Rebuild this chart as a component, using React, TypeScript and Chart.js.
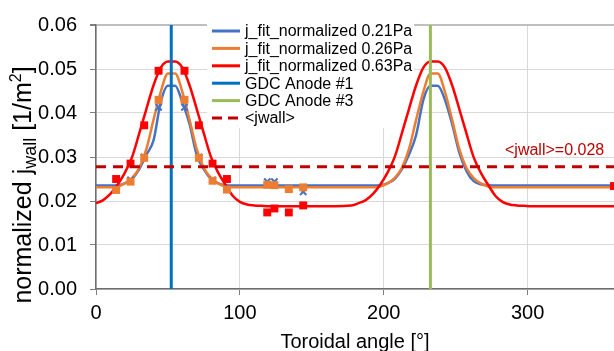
import React, { useEffect, useRef } from 'react';
import { Chart, registerables } from 'chart.js';

Chart.register(...registerables);

const FONT = '"Liberation Sans", Arial, sans-serif';

// Fitted curves (toroidal angle in degrees)
const fitAngles = [
  0, 5, 10, 15, 20, 25, 30, 35, 40, 45, 50, 55, 60, 65, 70, 75, 80, 85, 90, 95, 100, 105, 110, 115, 120,
  150, 177.5,
  182.5, 187.5, 192.5, 197.5, 202.5, 207.5, 212.5, 217.5, 222.5, 227.5, 232.5, 237.5, 242.5, 247.5, 252.5,
  257.5, 262.5, 267.5, 272.5, 277.5, 282.5, 287.5, 292.5, 297.5, 302.5,
  330, 360,
];
const fit021 = [
  0.0235, 0.0235, 0.0235, 0.0236, 0.0240, 0.0250, 0.0272, 0.0305, 0.0338, 0.0425, 0.0462, 0.0462, 0.0425,
  0.0375, 0.0305, 0.0272, 0.0250, 0.0240, 0.0236, 0.0235, 0.0235, 0.0235, 0.0235, 0.0235, 0.0235,
  0.0235, 0.0235,
  0.0235, 0.0235, 0.0235, 0.0236, 0.0240, 0.0250, 0.0272, 0.0305, 0.0350, 0.0430, 0.0462, 0.0462, 0.0430,
  0.0375, 0.0310, 0.0268, 0.0245, 0.0238, 0.0236, 0.0235, 0.0235, 0.0235, 0.0235, 0.0235, 0.0235,
  0.0235, 0.0235,
];
const fit026 = [
  0.0231, 0.0231, 0.0231, 0.0233, 0.0240, 0.0252, 0.0275, 0.0318, 0.0385, 0.0448, 0.0490, 0.0490, 0.0448,
  0.0385, 0.0318, 0.0275, 0.0252, 0.0240, 0.0233, 0.0231, 0.0231, 0.0231, 0.0231, 0.0231, 0.0231,
  0.0231, 0.0231,
  0.0231, 0.0231, 0.0231, 0.0233, 0.0240, 0.0252, 0.0275, 0.0318, 0.0385, 0.0448, 0.0490, 0.0490, 0.0448,
  0.0385, 0.0318, 0.0275, 0.0252, 0.0240, 0.0233, 0.0231, 0.0231, 0.0231, 0.0231, 0.0231, 0.0231,
  0.0231, 0.0231,
];
const fit063 = [
  0.0195, 0.0202, 0.0216, 0.0237, 0.0264, 0.0299, 0.0353, 0.0409, 0.0463, 0.0503, 0.0517, 0.0517, 0.0503,
  0.0463, 0.0409, 0.0353, 0.0299, 0.0264, 0.0237, 0.0212, 0.0198, 0.0192, 0.0190, 0.0189, 0.0188,
  0.0188, 0.0190,
  0.0195, 0.0202, 0.0216, 0.0237, 0.0264, 0.0299, 0.0353, 0.0409, 0.0463, 0.0503, 0.0517, 0.0517, 0.0503,
  0.0463, 0.0409, 0.0353, 0.0299, 0.0264, 0.0237, 0.0212, 0.0198, 0.0192, 0.0190, 0.0189, 0.0188,
  0.0188, 0.0188,
];

// Measured points
const measAngles = [14, 24, 33.5, 43.5, 61.5, 71.5, 81, 91, 119, 124, 134, 144];
const meas021 = [0.0228, 0.0248, 0.0300, 0.0413, 0.0413, 0.0300, 0.0248, 0.0228, 0.0244, 0.0244, 0.0228, 0.0221];
const meas026 = [0.0225, 0.0244, 0.0298, 0.0430, 0.0430, 0.0298, 0.0246, 0.0226, 0.0237, 0.0236, 0.0227, 0.0231];
const measAngles063 = [14, 24, 33.5, 43.5, 61.5, 71.5, 81, 91, 119, 124, 134, 144, 360];
const meas063 = [0.0250, 0.0285, 0.0372, 0.0496, 0.0496, 0.0372, 0.0285, 0.0250, 0.0174, 0.0183, 0.0174, 0.0190, 0.0234];

// Anodes and mean
const anode1Angle = 52.3;
const anode3Angle = 232.4;
const jwallMean = 0.0278;
const jwallLabel = '<jwall>=0.028';

const legendLabels = [
  'j_fit_normalized 0.21Pa',
  'j_fit_normalized 0.26Pa',
  'j_fit_normalized 0.63Pa',
  'GDC Anode #1',
  'GDC Anode #3',
  '<jwall>',
];

const C_BLUE = '#4472C4';
const C_ORANGE = '#ED7D31';
const C_RED = '#FF0000';
const C_A1 = '#0070C0';
const C_A3 = '#9BBB59';
const C_MEAN = '#C00000';

const pts = (xs: number[], ys: number[]) => xs.map((x, i) => ({ x, y: ys[i] }));

const LEG = { left: 207, top: 22, width: 207, height: 106 };

const overlayPlugin = {
  id: 'overlay',
  beforeDatasetsDraw(chart: any) {
    const ctx = chart.ctx as CanvasRenderingContext2D;
    ctx.save();
    ctx.fillStyle = '#ffffff';
    ctx.fillRect(LEG.left, LEG.top, LEG.width, LEG.height);
    ctx.restore();
  },
  afterDraw(chart: any) {
    const ctx = chart.ctx as CanvasRenderingContext2D;
    const xs = chart.scales.x;
    ctx.save();

    // mean label
    ctx.font = `16px ${FONT}`;
    ctx.fillStyle = C_MEAN;
    ctx.textBaseline = 'alphabetic';
    ctx.textAlign = 'left';
    ctx.fillText(jwallLabel, 505, 155);

    // legend
    const entries = [
      { c: C_BLUE, dash: [] as number[] },
      { c: C_ORANGE, dash: [] },
      { c: C_RED, dash: [] },
      { c: C_A1, dash: [] },
      { c: C_A3, dash: [] },
      { c: C_MEAN, dash: [10, 6] },
    ];
    entries.forEach((e, i) => {
      const y = 31 + i * 17.4;
      ctx.beginPath();
      ctx.setLineDash(e.dash);
      ctx.strokeStyle = e.c;
      ctx.lineWidth = 3;
      ctx.moveTo(212, y);
      ctx.lineTo(240, y);
      ctx.stroke();
      ctx.setLineDash([]);
      ctx.fillStyle = '#000';
      ctx.font = `16px ${FONT}`;
      ctx.textBaseline = 'middle';
      ctx.fillText(legendLabels[i], 245, y + 1);
    });

    // x title
    ctx.fillStyle = '#000';
    ctx.font = `20px ${FONT}`;
    ctx.textAlign = 'center';
    ctx.textBaseline = 'alphabetic';
    ctx.fillText('Toroidal angle [°]', (xs.left + xs.right) / 2, 347.5);

    // y title with sub/superscript
    const segs = [
      { t: 'normalized j', s: 25, dy: 0 },
      { t: 'wall', s: 18, dy: 5 },
      { t: ' [1/m', s: 25, dy: 0 },
      { t: '2', s: 16, dy: -10 },
      { t: ']', s: 25, dy: 0 },
    ];
    let total = 0;
    segs.forEach((sg) => {
      ctx.font = `${sg.s}px ${FONT}`;
      total += ctx.measureText(sg.t).width;
    });
    ctx.translate(31, 185);
    ctx.rotate(-Math.PI / 2);
    ctx.textAlign = 'left';
    let px = -total / 2;
    segs.forEach((sg) => {
      ctx.font = `${sg.s}px ${FONT}`;
      ctx.fillText(sg.t, px, sg.dy);
      px += ctx.measureText(sg.t).width;
    });
    ctx.restore();
  },
};

export default function App() {
  const ref = useRef<HTMLCanvasElement | null>(null);

  useEffect(() => {
    if (!ref.current) return;
    const chart = new Chart(ref.current, {
      type: 'scatter',
      data: {
        datasets: [
          {
            label: legendLabels[0],
            data: pts(fitAngles, fit021),
            showLine: true,
            borderColor: C_BLUE,
            borderWidth: 2.5,
            pointRadius: 0,
            cubicInterpolationMode: 'monotone',
            order: 9,
          } as any,
          {
            label: legendLabels[1],
            data: pts(fitAngles, fit026),
            showLine: true,
            borderColor: C_ORANGE,
            borderWidth: 2.5,
            pointRadius: 0,
            cubicInterpolationMode: 'monotone',
            order: 8,
          },
          {
            label: legendLabels[2],
            data: pts(fitAngles, fit063),
            showLine: true,
            borderColor: C_RED,
            borderWidth: 2.5,
            pointRadius: 0,
            cubicInterpolationMode: 'monotone',
            order: 7,
          },
          {
            label: 'meas 0.21Pa',
            data: pts(measAngles, meas021),
            showLine: false,
            pointStyle: 'crossRot',
            pointRadius: 4.5,
            borderColor: C_BLUE,
            backgroundColor: C_BLUE,
            pointBorderWidth: 2,
            order: 6,
          },
          {
            label: 'meas 0.26Pa',
            data: pts(measAngles, meas026),
            showLine: false,
            pointStyle: 'rect',
            pointRadius: 5.6,
            backgroundColor: C_ORANGE,
            borderColor: C_ORANGE,
            pointBorderWidth: 0,
            order: 5,
          },
          {
            label: 'meas 0.63Pa',
            data: pts(measAngles063, meas063),
            showLine: false,
            pointStyle: 'rect',
            pointRadius: 5.6,
            backgroundColor: C_RED,
            borderColor: C_RED,
            pointBorderWidth: 0,
            order: 4,
          },
          {
            label: legendLabels[3],
            data: [
              { x: anode1Angle, y: 0 },
              { x: anode1Angle, y: 0.06 },
            ],
            showLine: true,
            borderColor: C_A1,
            borderWidth: 3,
            pointRadius: 0,
            order: 3,
          },
          {
            label: legendLabels[4],
            data: [
              { x: anode3Angle, y: 0 },
              { x: anode3Angle, y: 0.06 },
            ],
            showLine: true,
            borderColor: C_A3,
            borderWidth: 3,
            pointRadius: 0,
            order: 2,
          },
          {
            label: legendLabels[5],
            data: [
              { x: 0, y: jwallMean },
              { x: 360, y: jwallMean },
            ],
            showLine: true,
            borderColor: C_MEAN,
            borderWidth: 3,
            borderDash: [10, 7],
            pointRadius: 0,
            order: 1,
          },
        ],
      },
      options: {
        responsive: false,
        animation: false,
        events: [],
        layout: { autoPadding: false, padding: { top: 19, right: 0, left: 0, bottom: 0 } },
        plugins: { legend: { display: false }, tooltip: { enabled: false } },
        scales: {
          x: {
            type: 'linear',
            position: 'bottom',
            min: 0,
            max: 360,
            ticks: {
              stepSize: 100,
              includeBounds: false,
              maxRotation: 0,
              padding: 6,
              color: '#000',
              font: { family: FONT, size: 20 },
            },
            grid: { color: '#d9d9d9', lineWidth: 1, tickLength: 6, tickColor: '#7f7f7f' },
            border: { color: '#6e6e6e', width: 1.5 },
            afterFit: (s: any) => {
              s.height = 62;
            },
          },
          y: {
            type: 'linear',
            min: 0,
            max: 0.06,
            ticks: {
              stepSize: 0.01,
              padding: 13,
              color: '#000',
              font: { family: FONT, size: 20 },
              callback: (v: any) => Number(v).toFixed(2),
            },
            grid: {
              color: (c: any) => (c.tick && Math.abs(c.tick.value - 0.06) < 1e-9 ? '#bfbfbf' : '#d9d9d9'),
              lineWidth: (c: any) => (c.tick && Math.abs(c.tick.value - 0.06) < 1e-9 ? 2 : 1),
              tickLength: 6,
              tickColor: '#7f7f7f',
            },
            border: { color: '#6e6e6e', width: 1.5 },
            afterFit: (s: any) => {
              s.width = 96;
            },
          },
        },
      } as any,
      plugins: [overlayPlugin],
    });
    return () => chart.destroy();
  }, []);

  return (
    <div style={{ position: 'fixed', left: 0, top: 0, width: 614, height: 351, background: '#fff', overflow: 'hidden' }}>
      <canvas ref={ref} width={614} height={351} style={{ display: 'block', width: 614, height: 351 }} />
    </div>
  );
}
